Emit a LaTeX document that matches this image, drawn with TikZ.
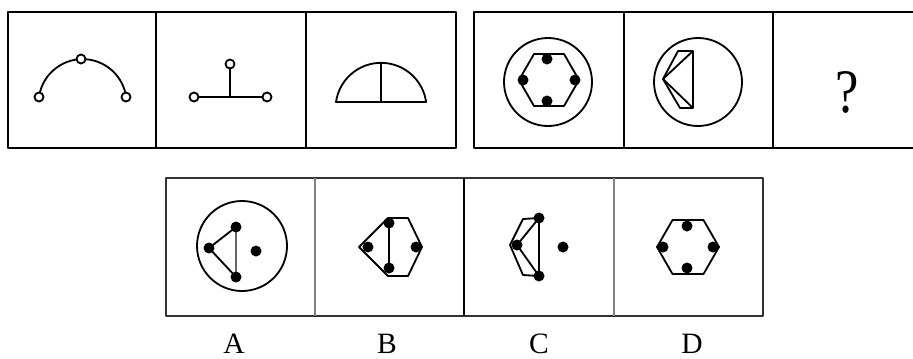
\documentclass[tikz,border=0pt]{standalone}
\usepackage{fontspec}
\setmainfont{Liberation Serif}

\begin{document}
\begin{tikzpicture}[x=0.025cm,y=-0.025cm,line join=round,
    frame/.style={line width=2pt},
    wall/.style={line width=1.3pt},
    figline/.style={line width=1.3pt},
    ring/.style={line width=1.3pt,fill=white},
    letter/.style={anchor=base,inner sep=0pt,font=\fontsize{21}{21}\selectfont}]
    \useasboundingbox (0,0) rectangle (913,358);
    \draw[frame] (8,12) rectangle (456,148);
    \draw[wall] (156,12) -- (156,148);
    \draw[wall] (306,12) -- (306,148);
    \draw[frame] (913,12) -- (474,12) -- (474,148) -- (913,148);
    \draw[wall] (624,12) -- (624,148);
    \draw[wall] (773,12) -- (773,148);
    \draw[figline] (39,97) arc (188:352:44);
    \draw[ring] (39,97) circle (4.5);
    \draw[ring] (81,59) circle (4.5);
    \draw[ring] (126,97) circle (4.5);
    \draw[figline] (194,97) -- (267,97);
    \draw[figline] (230,64) -- (230,97);
    \draw[ring] (230,64) circle (4.5);
    \draw[ring] (194,97) circle (4.5);
    \draw[ring] (267,97) circle (4.5);
    \draw[figline] (336,102) arc (188:352:45.5) -- cycle;
    \draw[figline] (381,63) -- (381,102);
    \draw[figline] (548,82) circle (44);
    \draw[figline] (579,80) -- (564,54) -- (534,54) -- (519,80) -- (534,106) -- (564,106) -- cycle;
    \fill (547,59) circle (5.5);
    \fill (547,101) circle (5.5);
    \fill (523,80) circle (5.5);
    \fill (575,80) circle (5.5);
    \draw[figline] (698,82) circle (44);
    \draw[figline] (678,51) -- (693,51) -- (693,108) -- (680,108) -- (663,79) -- cycle;
    \draw[figline] (663,79) -- (693,51);
    \draw[figline] (663,79) -- (693,108);
    \node[anchor=base,inner sep=0pt,font=\fontsize{44}{44}\selectfont,xscale=0.85] (ask) at (847,112) {?};
    \draw[line width=1.8pt,black!80] (166,178) rectangle (763,316);
    \draw[line width=1.1pt,black!50] (315,178) -- (315,316);
    \draw[line width=1.3pt] (464,178) -- (464,316);
    \draw[line width=1.1pt,black!50] (614,178) -- (614,316);
    \draw[figline] (242,246) circle (45);
    \draw[figline] (236,227) -- (209,248) -- (236,277);
    \draw[line width=1pt,black!60] (236,227) -- (236,277);
    \fill (236,227) circle (5.5);
    \fill (209,248) circle (5.5);
    \fill (236,277) circle (5.5);
    \fill (256,251) circle (5.5);
    \draw[figline] (359,247) -- (388,218) -- (408,218) -- (422,247) -- (408,276) -- (388,276) -- cycle;
    \draw[line width=1.7pt] (389,223) -- (389,268);
    \fill (389,223) circle (5.5);
    \fill (389,268) circle (5.5);
    \fill (368,247) circle (5.5);
    \fill (416,247) circle (5.5);
    \draw[figline] (539,218) -- (523,219) -- (510,245) -- (523,275) -- (539,276) -- cycle;
    \draw[figline] (517,245) -- (539,218);
    \draw[figline] (517,245) -- (539,276);
    \draw[line width=1.7pt] (539,218) -- (539,276);
    \fill (539,218) circle (5.5);
    \fill (517,245) circle (5.5);
    \fill (539,276) circle (5.5);
    \fill (563,247) circle (5.5);
    \draw[figline] (719,247) -- (703.5,220) -- (672.5,220) -- (657,247) -- (672.5,274) -- (703.5,274) -- cycle;
    \fill (687,226) circle (5.5);
    \fill (687,268) circle (5.5);
    \fill (663,247) circle (5.5);
    \fill (713,247) circle (5.5);
    \node[letter] (optA) at (234,353) {A};
    \node[letter] (optB) at (387,353) {B};
    \node[letter] (optC) at (539,353) {C};
    \node[letter] (optD) at (692,353) {D};
\end{tikzpicture}
\end{document}
